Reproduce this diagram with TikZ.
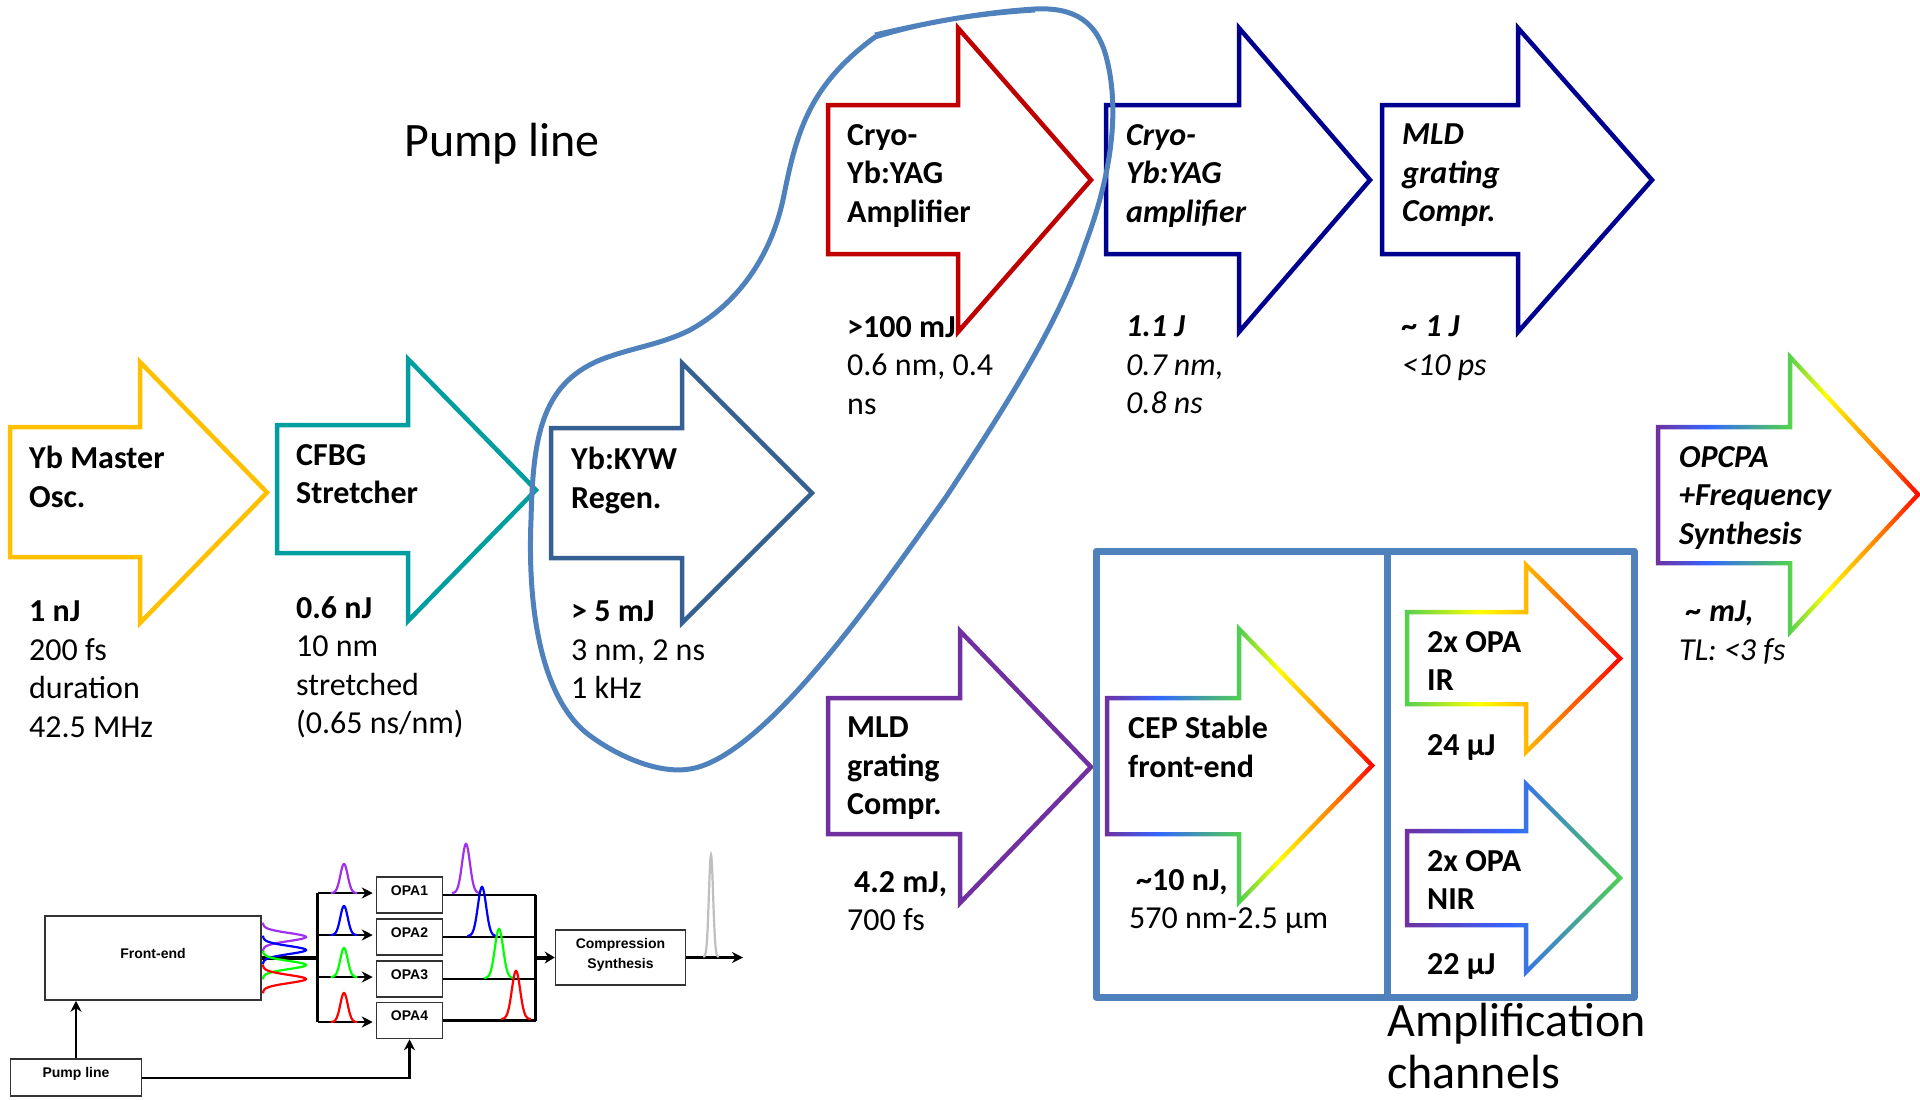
\documentclass[tikz,border=0pt]{standalone}
\usepackage{fontspec}
\setmainfont{Carlito}
\newfontfamily\arialfont{Liberation Sans}
\usetikzlibrary{arrows.meta}

\definecolor{goldline}{HTML}{FFC000}
\definecolor{tealline}{HTML}{009E9E}
\definecolor{steelline}{HTML}{376092}
\definecolor{redline}{HTML}{C00000}
\definecolor{navyline}{HTML}{000090}
\definecolor{purpline}{HTML}{7030A0}
\definecolor{blueline}{HTML}{3366FF}
\definecolor{grnline}{HTML}{50D050}
\definecolor{frameblue}{HTML}{4F81BD}
\definecolor{pulsepurple}{HTML}{A030F0}
\definecolor{pulsegrey}{HTML}{BFBFBF}

\pgfdeclarehorizontalshading{fullrainbow}{100bp}{color(0bp)=(purpline); color(25bp)=(purpline); color(35bp)=(blueline); color(50bp)=(grnline); color(57bp)=(yellow); color(67bp)=(orange); color(75bp)=(red); color(100bp)=(red)}
\pgfdeclarehorizontalshading{irrainbow}{100bp}{color(0bp)=(grnline); color(25bp)=(grnline); color(42bp)=(yellow); color(52bp)=(goldline); color(75bp)=(red); color(100bp)=(red)}
\pgfdeclarehorizontalshading{nirrainbow}{100bp}{color(0bp)=(purpline); color(25bp)=(purpline); color(49bp)=(blueline); color(75bp)=(grnline); color(100bp)=(grnline)}

% block arrow outline, #1 = signed offset from the centre line
\newcommand{\arrowshape}[1]{(\al-#1,\at-#1) -- (\an-#1,\at-#1)
    -- (\an-#1,{\aht-#1*(0.5*(\ahb-\aht)+veclen(\atip-\an,0.5*(\ahb-\aht)))/(\atip-\an)})
    -- ({\atip+#1*veclen(\atip-\an,0.5*(\ahb-\aht))/(0.5*(\ahb-\aht))},{0.5*(\aht+\ahb)})
    -- (\an-#1,{\ahb+#1*(0.5*(\ahb-\aht)+veclen(\atip-\an,0.5*(\ahb-\aht)))/(\atip-\an)})
    -- (\an-#1,\ab+#1) -- (\al-#1,\ab+#1) -- cycle}

\tikzset{
    arrowline/.style={line width=4.5pt, miter limit=10, fill=white},
    txt/.style={anchor=north west, inner sep=0pt, align=left, font=\fontsize{32}{38.5}\selectfont},
    bigtxt/.style={anchor=north west, inner sep=0pt, align=left, font=\fontsize{48}{56}\selectfont},
    amptxt/.style={anchor=base west, inner sep=0pt, font=\fontsize{48}{56}\selectfont},
    minibox/.style={draw=black!80, line width=1.5pt, inner sep=0pt, align=center, font=\arialfont\bfseries\fontsize{14}{20}\selectfont},
    onelinebox/.style={minibox, text height=10pt, text depth=10pt},
    miniline/.style={line width=2.5pt},
    miniarrow/.style={line width=2.5pt, -{Stealth[length=11pt,width=11pt]}},
    pulse/.style={line width=2.2pt, line cap=round}
}

\begin{document}
\begin{tikzpicture}[x=1pt,y=-1pt]
    \useasboundingbox (0,0) rectangle (1920,1100);

    \foreach \al/\an/\atip/\at/\ab/\aht/\ahb/\col in {
        10/140/267/427/557/362/623/goldline,
        277/408/536/425/553/359/621/tealline,
        551/682/812/428/558/363/623/steelline,
        828/958/1091/105/254/28/332/redline,
        1106/1239/1370/105/254/28/332/navyline,
        1382/1518/1652/105/254/28/332/navyline,
        828/960/1091/698/834/631/903/purpline}
        \draw[arrowline,draw=\col] \arrowshape{0};

    \foreach \al/\an/\atip/\at/\ab/\aht/\ahb/\shd in {
        1107/1239/1372/698/834/629/902/fullrainbow,
        1407/1526/1620/612/704/565/752/irrainbow,
        1407/1526/1620/831/925/784/972/nirrainbow,
        1658/1790/1918/427/563/357/632/fullrainbow} {
        \shade[shading=\shd] \arrowshape{2.25};
        \fill[white] \arrowshape{-2.25};
    }

    % pump line outline
    \draw[frameblue, line width=5pt, line join=round] (875,35)
        .. controls (930,22) and (985,12) .. (1035,9)
        .. controls (1075,7) and (1098,22) .. (1107,60)
        .. controls (1118,105) and (1115,165) .. (1085,245)
        .. controls (1060,320) and (1010,400) .. (946,497)
        .. controls (880,590) and (765,757) .. (690,769)
        .. controls (660,774) and (620,758) .. (589,735)
        .. controls (545,702) and (527,620) .. (531,520)
        .. controls (533,440) and (540,385) .. (600,360)
        .. controls (630,348) and (660,345) .. (690,330)
        .. controls (730,308) and (770,265) .. (784,195)
        .. controls (797,130) and (810,85) .. (875,37)
        .. controls (930,20) and (985,13) .. (1035,10);

    % amplification frame
    \draw[frameblue, line width=7pt, line join=round] (1096,551) rectangle (1634,997);
    \draw[frameblue, line width=7pt] (1387,551) -- (1387,997);

    \node[bigtxt] (pumplabel) at (404,123) {Pump line};
    \node[amptxt] (amplabel) at (1387,1036) {Amplification};
    \node[amptxt] (chanlabel) at (1387,1088) {channels};

    \node[txt] (masterhead) at (29,446) {\bfseries Yb Master\\\bfseries Osc.};
    \node[txt] (masterdata) at (29,601) {\bfseries 1 nJ\\200 fs\\duration\\42.5 MHz};
    \node[txt] (cfbghead) at (296,444) {\bfseries CFBG\\\bfseries Stretcher};
    \node[txt] (cfbgdata) at (296,596) {\bfseries 0.6 nJ\\10 nm\\stretched\\(0.65 ns/nm)};
    \node[txt] (regenhead) at (571,447) {\bfseries Yb:KYW\\\bfseries Regen.};
    \node[txt] (regendata) at (571,601) {\bfseries > 5 mJ\\3 nm, 2 ns\\1 kHz};
    \node[txt] (cryohead) at (847,124) {\bfseries Cryo-\\\bfseries Yb:YAG\\\bfseries Amplifier};
    \node[txt] (cryodata) at (847,316) {\bfseries >100 mJ\\0.6 nm, 0.4\\ns};
    \node[txt] (cryoBhead) at (1126,124) {\bfseries\itshape Cryo-\\\bfseries\itshape Yb:YAG\\\bfseries\itshape amplifier};
    \node[txt] (cryoBdata) at (1126,316) {\bfseries\itshape 1.1 J\\\itshape 0.7 nm,\\\itshape 0.8 ns};
    \node[txt] (gratinghead) at (1402,124) {\bfseries\itshape MLD\\\bfseries\itshape grating\\\bfseries\itshape Compr.};
    \node[txt] (gratingdata) at (1402,316) {\bfseries\itshape \textasciitilde{} 1 J\\\itshape <10 ps};
    \node[txt] (opcpahead) at (1679,446) {\bfseries\itshape OPCPA\\\bfseries\itshape +Frequency\\\bfseries\itshape Synthesis};
    \node[txt] (opcpadata) at (1679,601) {\hspace*{7pt}\bfseries\itshape \textasciitilde{} mJ,\\\itshape TL: <3 fs};
    \node[txt] (mldhead) at (847,717) {\bfseries MLD\\\bfseries grating\\\bfseries Compr.};
    \node[txt] (mlddata) at (847,871) {\hspace*{7pt}\bfseries 4.2 mJ,\\700 fs};
    \node[txt] (cephead) at (1128,716) {\bfseries CEP Stable\\\bfseries front-end};
    \node[txt] (cepdata) at (1129,869) {\hspace*{7pt}\bfseries \textasciitilde10 nJ,\\570 nm-2.5 µm};
    \node[txt] (irhead) at (1427,631) {\bfseries 2x OPA\\\bfseries IR};
    \node[txt] (irdata) at (1427,734) {\bfseries 24 µJ};
    \node[txt] (nirhead) at (1427,850) {\bfseries 2x OPA\\\bfseries NIR};
    \node[txt] (nirdata) at (1427,953) {\bfseries 22 µJ};

    % small OPA scheme
    \node[onelinebox, minimum width=216pt, minimum height=84pt] (frontend) at (153,958) {Front-end};
    \node[onelinebox, minimum width=131pt, minimum height=37pt] (pumpbox) at (76,1077.5) {Pump line};
    \foreach \y/\n/\lbl in {895/A/OPA1, 937/B/OPA2, 979/C/OPA3, 1020.5/D/OPA4}
        \node[onelinebox, minimum width=66pt, minimum height=36pt] (opa\n) at (409.5,\y) {\lbl};
    \node[minibox, minimum width=130pt, minimum height=55pt] (compress) at (620.5,957.5) {};
    \node[minibox, draw=none] (compresslabel) at ([yshift=2.5pt]compress.center) {Compression\\Synthesis};

    \coordinate (busin) at (317.5,958);
    \coordinate (busout) at (535.5,957.5);
    \coordinate (endout) at (743,957.5);
    \coordinate (pumpturn) at (409.5,1078);

    \draw[line width=3.5pt] (frontend.east) -- (busin);
    \draw[miniline] (317.5,893) -- (317.5,1022);
    \foreach \n/\y in {A/893, B/935, C/977, D/1022}
        \draw[miniarrow, shorten >=3pt] (317.5,\y) -- (opa\n.west |- 0,\y);
    \foreach \n in {A,B,C,D}
        \draw[miniline] (opa\n.east) -- (opa\n.east -| busout);
    \draw[miniline] (opaA.east -| busout) -- (opaD.east -| busout);
    \draw[line width=4pt, -{Stealth[length=10pt,width=12pt]}] (busout) -- (compress.west);
    \draw[miniarrow] (compress.east) -- (endout);
    \draw[miniarrow] (pumpbox.north) -- (frontend.south -| pumpbox.north);
    \draw[miniarrow] (pumpbox.east |- pumpturn) -- (pumpturn) -- (opaD.south);

    % pulses
    \foreach \cx/\by/\hw/\amp/\col in {
        344/893/5.25/29/pulsepurple, 344/935/5.25/29/blue, 344/977/5.25/29/green, 344/1022/5.25/29/red,
        466/893/5.6/49/pulsepurple, 482/936/5.9/49/blue, 499/978/5.9/49/green, 516/1019/5.9/48/red,
        711/957/3/102/pulsegrey}
        \draw[pulse,\col] plot[domain=-2.4:2.4,samples=41] ({\cx+\x*\hw},{\by-\amp*exp(-\x*\x)});
    \foreach \cy/\col in {937/pulsepurple, 950/blue, 965/green, 979/red}
        \draw[pulse,\col] plot[domain=-2.4:2.4,samples=41] ({263+43*exp(-\x*\x)},{\cy+\x*5.7});
\end{tikzpicture}
\end{document}
